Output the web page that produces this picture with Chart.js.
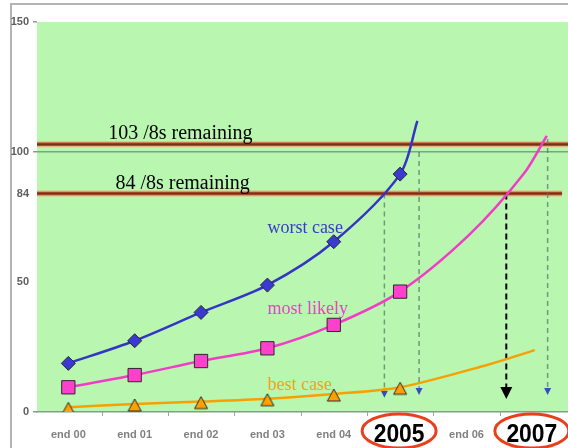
<!DOCTYPE html>
<html>
<head>
<meta charset="utf-8">
<script src="https://cdn.jsdelivr.net/npm/chart.js@4/dist/chart.umd.min.js"></script>
<style>
  html, body { margin: 0; padding: 0; background: #fff; }
  #wrap { width: 568px; height: 448px; }
</style>
</head>
<body>
<div id="wrap"><canvas id="c" width="568" height="448"></canvas></div>
<script>
// Category labels along the bottom (index 0..7); the two highlighted years get circled.
const categories = ['end 00', 'end 01', 'end 02', 'end 03', 'end 04', '2005', 'end 06', '2007'];
const highlightedYears = ['2005', '2007'];
const yTickValues = [0, 50, 84, 100, 150];

// Measured points per year-end (marked), followed by the projected continuation (unmarked).
const worstCase = [18.7, 27.4, 38.3, 48.8, 65.5, 91.5];
const worstCaseTrend = [{ x: 5.26, y: 112 }];
const mostLikely = [9.5, 14.2, 19.6, 24.5, 33.5, 46.3];
const mostLikelyTrend = [{ x: 6.04, y: 68.1 }, { x: 6.86, y: 91.5 }, { x: 7.21, y: 106.2 }];
const bestCase = [1.8, 3.1, 4.0, 5.1, 6.9, 9.5];
const bestCaseTrend = [{ x: 6.31, y: 18.1 }, { x: 7.03, y: 23.8 }];

// Address-space thresholds and their captions.
const thresholds = [103, 84];
const thresholdLabels = ['103 /8s remaining', '84 /8s remaining'];
const thresholdEnds = [7.53, 7.44];

// Drop lines from threshold crossings down to the time axis.
const dropLines = [
  { x: 4.763, from: 84, to: 5.5, dark: false },
  { x: 5.286, from: 100, to: 6.5, dark: false },
  { x: 6.6, from: 84, to: 5.0, dark: true },
  { x: 7.223, from: 105, to: 6.5, dark: false }
];

// Series captions placed in data coordinates (left edge, baseline).
const seriesCaptions = [
  { text: 'worst case', x: 3.0, y: 68.8, color: '#3a3ac8' },
  { text: 'most likely', x: 3.0, y: 37.7, color: '#f03cc8' },
  { text: 'best case', x: 3.0, y: 8.5, color: '#f5a014' }
];

// Triangle marker whose base sits a little below the line it marks.
function triangleMarker(fill) {
  const cv = document.createElement('canvas');
  cv.width = 18; cv.height = 18;
  const g = cv.getContext('2d');
  g.fillStyle = fill;
  g.strokeStyle = '#2a2a2a';
  g.lineWidth = 1;
  g.beginPath();
  g.moveTo(9, 4);
  g.lineTo(15.5, 16);
  g.lineTo(2.5, 16);
  g.closePath();
  g.fill();
  g.stroke();
  return cv;
}

function series(values, trend, color, fill, style, radius) {
  const pts = values.map((v, i) => ({ x: i, y: v })).concat(trend);
  return {
    data: pts,
    borderColor: color,
    backgroundColor: fill,
    borderWidth: 2.5,
    tension: 0.3,
    pointStyle: style,
    pointRadius: ctx => (ctx.dataIndex < values.length ? radius : 0),
    pointHoverRadius: 0,
    pointBorderColor: '#2a2a2a',
    pointBorderWidth: 1
  };
}

const decor = {
  id: 'decor',
  beforeDraw(chart) {
    const { ctx, chartArea: a } = chart;
    ctx.save();
    ctx.fillStyle = '#b9f7b1';
    ctx.fillRect(a.left, a.top, a.right - a.left, a.bottom - a.top);
    // outer frame
    ctx.strokeStyle = '#b4b4b4';
    ctx.lineWidth = 2;
    ctx.beginPath();
    ctx.moveTo(11, 448);
    ctx.lineTo(11, 4);
    ctx.lineTo(568, 4);
    ctx.stroke();
    ctx.restore();
  },
  beforeDatasetsDraw(chart) {
    const { ctx, chartArea: a, scales: { x, y } } = chart;
    ctx.save();
    thresholds.forEach((v, i) => {
      const py = y.getPixelForValue(v);
      const xr = x.getPixelForValue(thresholdEnds[i]);
      ctx.lineCap = 'butt';
      ctx.strokeStyle = 'rgba(238,170,120,0.85)';
      ctx.lineWidth = 6;
      ctx.beginPath(); ctx.moveTo(a.left, py); ctx.lineTo(xr, py); ctx.stroke();
      ctx.strokeStyle = '#a85028';
      ctx.lineWidth = 3.5;
      ctx.beginPath(); ctx.moveTo(a.left, py); ctx.lineTo(xr, py); ctx.stroke();
      ctx.strokeStyle = '#763214';
      ctx.lineWidth = 1.5;
      ctx.beginPath(); ctx.moveTo(a.left, py); ctx.lineTo(xr, py); ctx.stroke();
      ctx.fillStyle = '#000';
      ctx.font = '20px "Liberation Serif", "Times New Roman", serif';
      ctx.textAlign = 'left';
      ctx.textBaseline = 'alphabetic';
      const lx = i === 0 ? 0.6 : 0.71;
      ctx.fillText(thresholdLabels[i], x.getPixelForValue(lx), py - 5);
    });
    dropLines.forEach(d => {
      const px = x.getPixelForValue(d.x);
      const y0 = y.getPixelForValue(d.from);
      const y1 = y.getPixelForValue(d.to);
      if (d.dark) {
        ctx.strokeStyle = '#000';
        ctx.lineWidth = 2;
        ctx.setLineDash([6, 4]);
        ctx.beginPath(); ctx.moveTo(px, y0); ctx.lineTo(px, y1 - 10); ctx.stroke();
        ctx.setLineDash([]);
        ctx.fillStyle = '#000';
        ctx.beginPath();
        ctx.moveTo(px - 6, y1 - 12); ctx.lineTo(px + 6, y1 - 12); ctx.lineTo(px, y1); ctx.closePath();
        ctx.fill();
      } else {
        ctx.strokeStyle = 'rgba(90,120,110,0.75)';
        ctx.lineWidth = 1.5;
        ctx.setLineDash([5, 4]);
        ctx.beginPath(); ctx.moveTo(px, y0); ctx.lineTo(px, y1 - 6); ctx.stroke();
        ctx.setLineDash([]);
        ctx.fillStyle = '#3450b8';
        ctx.beginPath();
        ctx.moveTo(px - 3.5, y1 - 7); ctx.lineTo(px + 3.5, y1 - 7); ctx.lineTo(px, y1); ctx.closePath();
        ctx.fill();
      }
    });
    ctx.restore();
  },
  afterDatasetsDraw(chart) {
    const { ctx, scales: { x, y } } = chart;
    ctx.save();
    ctx.font = '18px "Liberation Serif", "Times New Roman", serif';
    ctx.textAlign = 'left';
    ctx.textBaseline = 'alphabetic';
    seriesCaptions.forEach(c => {
      ctx.fillStyle = c.color;
      ctx.fillText(c.text, x.getPixelForValue(c.x), y.getPixelForValue(c.y));
    });
    ctx.restore();
  },
  afterDraw(chart) {
    const { ctx, chartArea: a, scales: { x } } = chart;
    ctx.save();
    // small tick marks between categories
    ctx.strokeStyle = '#9aa89c';
    ctx.lineWidth = 1;
    for (let i = 0; i < categories.length - 1; i++) {
      const px = Math.round(x.getPixelForValue(i + 0.5)) + 0.5;
      ctx.beginPath(); ctx.moveTo(px, a.bottom); ctx.lineTo(px, a.bottom + 4); ctx.stroke();
    }
    categories.forEach((label, i) => {
      const px = x.getPixelForValue(i);
      if (highlightedYears.includes(label)) {
        ctx.strokeStyle = '#e8401c';
        ctx.lineWidth = 3;
        ctx.beginPath();
        ctx.ellipse(px - 1, 431, 37, 17, 0, 0, Math.PI * 2);
        ctx.stroke();
        ctx.fillStyle = '#000';
        ctx.font = 'bold 26px "Liberation Sans", Arial, sans-serif';
        ctx.textAlign = 'center';
        ctx.textBaseline = 'alphabetic';
        ctx.save();
        ctx.translate(px - 1, 442);
        ctx.scale(0.88, 1);
        ctx.fillText(label, 0, 0);
        ctx.restore();
      } else {
        ctx.fillStyle = '#808080';
        ctx.font = 'bold 11px "Liberation Sans", Arial, sans-serif';
        ctx.textAlign = 'center';
        ctx.textBaseline = 'middle';
        ctx.fillText(label, px, 435);
      }
    });
    ctx.restore();
  }
};

new Chart(document.getElementById('c'), {
  type: 'line',
  data: {
    datasets: [
      series(worstCase, worstCaseTrend, '#3535c4', '#3a3ad2', 'rectRot', 7),
      series(mostLikely, mostLikelyTrend, '#f23cc6', '#ff40cc', 'rect', 9.4),
      series(bestCase, bestCaseTrend, '#f7a000', '#ffa000', triangleMarker('#ffa000'), 8)
    ]
  },
  options: {
    responsive: false,
    animation: false,
    events: [],
    layout: { autoPadding: false, padding: { top: 22, left: 0, right: 0, bottom: 0 } },
    plugins: { legend: { display: false }, tooltip: { enabled: false } },
    scales: {
      x: {
        type: 'linear',
        min: -0.472,
        max: 7.53,
        ticks: { display: false },
        grid: { display: false },
        border: { display: true, color: '#7f9f86', width: 1.5 },
        afterFit: s => { s.height = 36; }
      },
      y: {
        min: 0,
        max: 150,
        afterBuildTicks: s => { s.ticks = yTickValues.map(v => ({ value: v })); },
        ticks: {
          autoSkip: false,
          padding: 4,
          color: '#5e5e5e',
          font: { family: '"Liberation Sans", Arial, sans-serif', size: 11, weight: 'bold' }
        },
        grid: {
          color: c => (c.tick && c.tick.value === 100 ? '#7f9f86' : 'transparent'),
          tickColor: c => (c.tick && [0, 100, 150].includes(c.tick.value) ? '#8f9a92' : 'transparent'),
          tickLength: 4,
          lineWidth: 1.5
        },
        border: { display: false },
        afterFit: s => { s.width = 37; }
      }
    }
  },
  plugins: [decor]
});
</script>
</body>
</html>
